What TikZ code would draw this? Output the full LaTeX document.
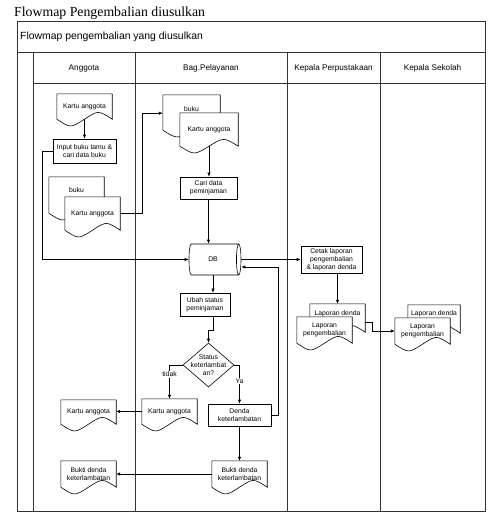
\documentclass[tikz,border=0pt]{standalone}
\usepackage{fontspec}
\setmainfont{Liberation Sans}
\newfontfamily\titleserif{Liberation Serif}
\usetikzlibrary{arrows.meta,calc,shapes.geometric}
\pgfdeclarelayer{docs}
\pgfsetlayers{docs,main}

\newcommand\nodefont{\fontsize{6.8}{8}\selectfont}
\newcommand\headfont{\fontsize{8.2}{10}\selectfont}
\newcommand\subfont{\fontsize{10.4}{12}\selectfont}
\newcommand\bigtitlefont{\titleserif\fontsize{13.8}{16}\selectfont}

% document symbol: rectangle with a wavy lower edge;
% #1 = node, #2 = how far the sides run below the node
\newcommand\docoutline[2]{%
  \filldraw[docline] (#1.north west) -- (#1.north east) -- ($(#1.south east)+(0,#2)$)
    .. controls ($(#1.south west)!0.75!(#1.south east)+(0,#2-9)$) .. ($(#1.south west)!0.5!(#1.south east)+(0,#2)$)
    .. controls ($(#1.south west)!0.25!(#1.south east)+(0,#2+9)$) .. ($(#1.south west)+(0,#2)$) -- cycle;}

\tikzset{
  frameline/.style={draw=black!80, line width=0.7pt},
  box/.style={draw, fill=white, line width=0.6pt, align=center, inner sep=1pt, font=\nodefont},
  doc/.style={inner sep=1pt, align=center, font=\nodefont},
  backtext/.style={text height=#1, text depth=0pt},
  docline/.style={draw=black, fill=white, line width=0.6pt},
  conn/.style={line width=0.6pt, -{Latex[length=4pt,width=3.4pt]}},
  lbl/.style={fill=white, inner sep=0.6pt, font=\nodefont},
  lanehead/.style={font=\headfont, anchor=base},
}

\begin{document}
\begin{tikzpicture}[x=1pt,y=-1pt]
\useasboundingbox (0,0) rectangle (500,520);

% titles
\node[anchor=base west, inner sep=0pt, font=\bigtitlefont] (title) at (14,16) {Flowmap Pengembalian diusulkan};
\node[anchor=base west, inner sep=0pt, font=\subfont] (subtitle) at (20,39) {Flowmap pengembalian yang diusulkan};

% swimlane frame
\draw[frameline] (17,21) rectangle (485,511);
\draw[frameline] (17,52) -- (485,52);
\draw[frameline] (33,83) -- (485,83);
\foreach \lx in {33,135,287,380} \draw[frameline] (\lx,52) -- (\lx,511);

\node[lanehead] (hA) at (84,70) {Anggota};
\node[lanehead] (hB) at (211,70) {Bag.Pelayanan};
\node[lanehead] (hC) at (333.5,70) {Kepala Perpustakaan};
\node[lanehead] (hD) at (432.5,70) {Kepala Sekolah};

% Anggota
\node[doc, minimum width=55pt, minimum height=25pt] (dKA1) at (84.5,106.5) {Kartu anggota};
\node[box, minimum width=63pt, minimum height=24pt] (rInput) at (84.5,151) {Input buku tamu \&\\cari data buku};
\node[doc, backtext=11pt, minimum width=55pt, minimum height=20pt] (dBukuA) at (76.5,187) {buku};
\node[doc, minimum width=55pt, minimum height=33pt] (dKAA) at (92.5,213.5) {Kartu anggota};
\node[doc, minimum width=55pt, minimum height=24pt] (dKA2) at (88.5,412) {Kartu anggota};
\node[doc, minimum width=55pt, minimum height=26pt] (dBukti1) at (88.5,474) {Bukti denda\\keterlambatan};

% Bag.Pelayanan
\node[doc, backtext=15pt, minimum width=57pt, minimum height=18pt] (dBukuB) at (191.5,104) {buku};
\node[doc, minimum width=58pt, minimum height=33pt] (dKAB) at (209,129.5) {Kartu anggota};
\node[box, minimum width=57pt, minimum height=22pt] (rCari) at (208.5,188) {Cari data\\peminjaman};
\node[cylinder, draw, line width=0.6pt, shape aspect=0.4, minimum width=31pt, minimum height=52pt, font=\nodefont] (DB) at (213,259.5) {DB};
\node[box, minimum width=50pt, minimum height=23pt] (rUbah) at (205,304.5) {Ubah status\\peminjaman};
\node[diamond, draw, fill=white, line width=0.6pt, align=center, font=\nodefont, inner xsep=-5pt, inner ysep=-3pt, minimum width=51pt, minimum height=44pt] (dec) at (208.5,365) {Status\\keterlambat\\an?};
\node[doc, minimum width=55pt, minimum height=25pt] (dKA3) at (169.5,411.5) {Kartu anggota};
\node[box, minimum width=63pt, minimum height=22pt] (rDenda) at (239.5,415) {Denda\\keterlambatan};
\node[doc, minimum width=55pt, minimum height=26pt] (dBukti2) at (239.5,474) {Bukti denda\\keterlambatan};

% Kepala Perpustakaan
\node[box, minimum width=61pt, minimum height=27pt] (rCetak) at (331.5,259.5) {Cetak laporan\\pengembalian\\\& laporan denda};
\node[doc, backtext=10pt, minimum width=55pt, minimum height=13pt] (dLapDendaP) at (337.5,310.5) {Laporan denda};
\node[doc, minimum width=55pt, minimum height=26pt] (dLapPengP) at (324.5,330) {Laporan\\pengembalian};

% Kepala Sekolah
\node[doc, backtext=8pt, minimum width=52pt, minimum height=13pt] (dLapDendaS) at (434,311.5) {Laporan denda};
\node[doc, minimum width=55pt, minimum height=26pt] (dLapPengS) at (422.5,331) {Laporan\\pengembalian};

% document outlines (back sheets first)
\begin{pgfonlayer}{docs}
  \docoutline{dKA1}{0}
  \docoutline{dBukuA}{16}
  \docoutline{dKAA}{0}
  \docoutline{dKA2}{0}
  \docoutline{dBukti1}{0}
  \docoutline{dBukuB}{17}
  \docoutline{dKAB}{0}
  \docoutline{dKA3}{0}
  \docoutline{dBukti2}{0}
  \docoutline{dLapDendaP}{15}
  \docoutline{dLapPengP}{0}
  \docoutline{dLapDendaS}{15}
  \docoutline{dLapPengS}{0}
\end{pgfonlayer}

% connectors
\draw[conn] (dKA1.south) -- (rInput.north);
\draw[conn] (rInput.west) -- ++(-10,0) |- (DB.west);
\draw[conn] (dKAA.east) -- ++(22,0) |- (dBukuB.south west);
\draw[conn] (dKAB.south) -- (dKAB.south |- rCari.north);
\draw[conn] (rCari.south) -- (rCari.south |- DB.north);
\draw[conn] (DB.east) -- (rCetak.west);
\draw[conn] (DB.south) -- (DB.south |- rUbah.north);
\draw[conn] (DB.south |- rUbah.south) -- ++(0,14) -| (dec.north);
\draw[conn] (dec.west) -| node[lbl, pos=0.64] {tidak} (dKA3.north);
\draw[conn] (dec.east) -| node[lbl, pos=0.71] {Ya} (rDenda.north);
\draw[conn] (dKA3.west) -- (dKA3.west -| dKA2.east);
\draw[conn] (rDenda.east) -- ++(7,0) |- ([yshift=-7.5pt]DB.east);
\draw[conn] (rDenda.south) -- (rDenda.south |- dBukti2.north);
\draw[conn] (dBukti2.west) -- (dBukti2.west -| dBukti1.east);
\draw[conn] (dLapDendaP.north |- rCetak.south) -- (dLapDendaP.north);
\draw[conn] ([yshift=-5pt]dLapDendaP.south east) -- ++(7,0) |- (dLapPengS.west);
\end{tikzpicture}
\end{document}
